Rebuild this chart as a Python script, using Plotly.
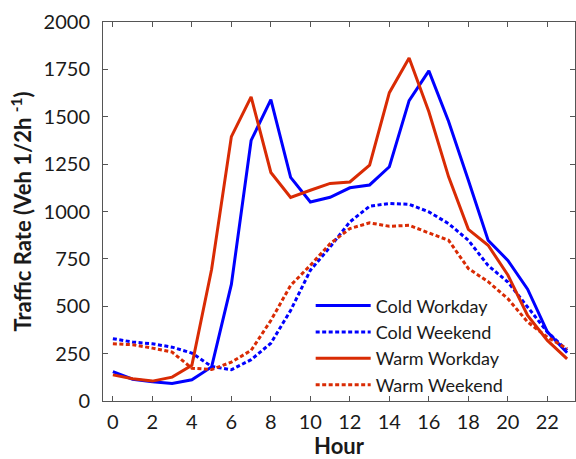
import plotly.graph_objects as go

# Hour of day
hours = list(range(24))

# Traffic rate (Veh 1/2h^-1) by hour
cold_workday = [155, 115, 102, 93, 112, 180, 615, 1375, 1590, 1180, 1050, 1075,
                1125, 1140, 1236, 1585, 1742, 1475, 1165, 848, 742, 590, 365, 255]
cold_weekend = [329, 311, 302, 284, 253, 182, 165, 218, 305, 478, 690, 813,
                945, 1028, 1042, 1038, 998, 936, 848, 715, 628, 496, 364, 267]
warm_workday = [138, 117, 105, 126, 188, 695, 1395, 1605, 1206, 1074, 1112, 1148,
                1156, 1245, 1627, 1810, 1526, 1183, 906, 822, 665, 452, 320, 222]
warm_weekend = [302, 297, 279, 258, 173, 166, 205, 267, 425, 610, 716, 830,
                910, 940, 922, 927, 887, 848, 699, 630, 540, 417, 337, 276]

x_ticks = list(range(0, 23, 2))
y_ticks = [0, 250, 500, 750, 1000, 1250, 1500, 1750, 2000]

BLUE = "#0000FF"
RED = "#D92B04"
DOTS = "4px,2.5px"
FONT = "Lato"

fig = go.Figure()
series = [
    ("Cold Workday", cold_workday, BLUE, "solid"),
    ("Cold Weekend", cold_weekend, BLUE, DOTS),
    ("Warm Workday", warm_workday, RED, "solid"),
    ("Warm Weekend", warm_weekend, RED, DOTS),
]
for name, vals, color, dash in series:
    fig.add_trace(go.Scatter(
        x=hours, y=vals, mode="lines", name=name,
        line=dict(color=color, width=3, dash=dash),
    ))

axis_common = dict(
    showline=True, linecolor="#555555", linewidth=1, mirror="ticks",
    ticks="inside", ticklen=5, tickcolor="#555555", tickwidth=1,
    showgrid=False, zeroline=False, automargin=False,
    tickfont=dict(family=FONT, size=20, color="#1a1a1a"),
)

fig.update_layout(
    width=576, height=459,
    margin=dict(l=103, r=1, t=22, b=58),
    paper_bgcolor="white", plot_bgcolor="white",
    font=dict(family=FONT, color="#1a1a1a"),
    xaxis=dict(
        range=[-0.5, 23.4], tickvals=x_ticks,
        title=dict(text="<b>Hour</b>", font=dict(family=FONT, size=22), standoff=14),
        ticklabelstandoff=3,
        **axis_common,
    ),
    yaxis=dict(
        range=[0, 2000], tickvals=y_ticks,
        title=dict(text="<b>Traffic Rate (Veh 1/2h <sup>-1</sup>)</b>",
                   font=dict(family=FONT, size=22), standoff=5),
        ticklabelstandoff=8,
        **axis_common,
    ),
    legend=dict(
        x=0.44, y=0.30, xanchor="left", yanchor="top",
        bgcolor="rgba(0,0,0,0)", borderwidth=0,
        font=dict(family=FONT, size=18, color="#1a1a1a"),
        itemwidth=55, tracegroupgap=0,
    ),
    showlegend=True,
)

fig.write_html("out.html")
